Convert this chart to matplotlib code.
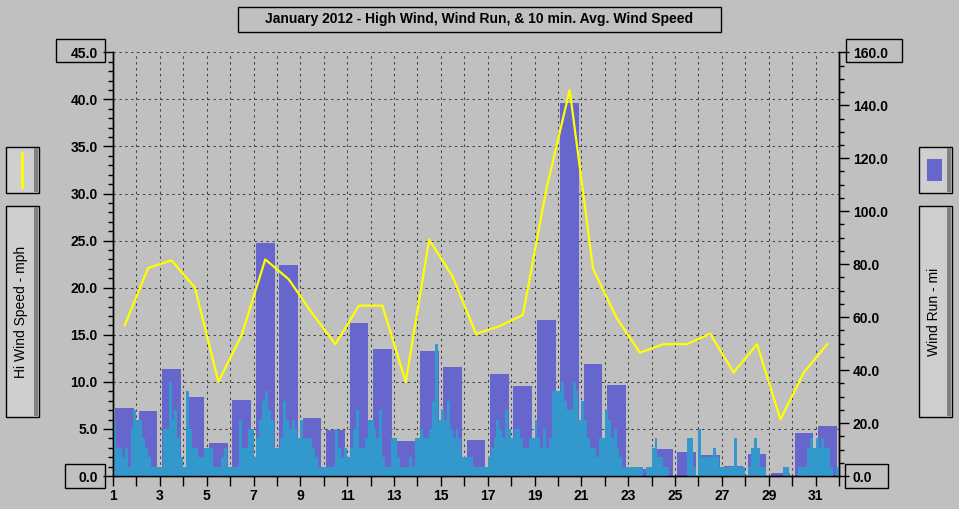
import numpy as np
import matplotlib
matplotlib.use("Agg")
import matplotlib.pyplot as plt
import matplotlib.transforms as mtransforms
from matplotlib.patches import Rectangle
from matplotlib.lines import Line2D
from matplotlib.ticker import MultipleLocator, FuncFormatter

# ================================================= Data ===============================================================
days = np.arange(1, 32)

# daily high wind speed (mph), left axis
hi_wind_mph = [16.0, 22.1, 22.9, 20.0, 10.0, 15.0, 23.0, 20.9, 17.3, 14.0,
               18.1, 18.1, 10.0, 25.1, 21.2, 15.1, 15.9, 17.1, 30.4, 41.0,
               22.0, 16.8, 13.1, 14.0, 14.0, 15.1, 11.0, 14.0, 6.0, 11.0, 14.0]

# daily wind run (mi), right axis
wind_run_mi = [25.7, 24.5, 40.4, 29.8, 12.5, 28.7, 88.0, 79.7, 21.9, 17.5,
               57.8, 48.0, 13.2, 47.2, 41.2, 13.6, 38.5, 34.0, 58.9, 140.9,
               42.3, 34.4, 2.8, 10.2, 9.2, 7.9, 3.8, 8.3, 1.1, 16.2, 18.9]

avg_speed_mph = [
    [6, 3, 3, 2, 3, 1, 5, 7], [6, 6, 4, 3, 2, 1, 1, 1], [1, 5, 5, 10, 6, 7, 4, 2],
    [1, 9, 5, 3, 3, 2, 2, 3], [3, 3, 1, 1, 1, 2, 3, 1], [1, 1, 1, 6, 3, 3, 5, 5],
    [2, 4, 6, 8, 9, 7, 6, 3], [3, 4, 8, 6, 5, 6, 5, 4], [6, 4, 4, 4, 3, 2, 1, 1],
    [1, 1, 1, 1, 5, 3, 2, 3], [2, 3, 5, 7, 3, 3, 4, 6], [6, 5, 4, 7, 2, 1, 1, 4],
    [4, 2, 1, 1, 1, 2, 1, 4], [4, 5, 4, 4, 5, 8, 14, 6], [7, 6, 8, 5, 4, 5, 4, 2],
    [2, 2, 2, 1, 1, 1, 1, 1], [2, 3, 4, 6, 5, 4, 7, 5], [4, 5, 5, 4, 3, 3, 4, 4],
    [6, 4, 3, 5, 3, 4, 9, 9], [9, 10, 8, 7, 7, 10, 9, 6], [8, 6, 4, 3, 3, 2, 4, 4],
    [7, 6, 4, 5, 3, 2, 1, 1], [1, 1, 1, 1, 1, 0, 1, 1], [3, 4, 2, 2, 1, 1, 0, 0],
    [0, 0, 0, 0, 4, 4, 1, 0], [5, 2, 2, 2, 2, 3, 2, 1], [1, 1, 1, 1, 4, 1, 1, 1],
    [0, 1, 3, 4, 3, 1, 1, 0], [0, 0, 0, 0, 0, 1, 1, 0], [0, 0, 1, 1, 1, 3, 4, 3],
    [4, 3, 4, 3, 3, 1, 0, 1],
]

title = "January 2012 - High Wind, Wind Run, & 10 min. Avg. Wind Speed"
left_label = "Hi Wind Speed - mph"
right_label = "Wind Run - mi"

# ================================================ Styling =============================================================
BG = '#C0C0C0'
BOX = '#CFCFCF'
BAR_COLOR = '#6666CC'
AVG_COLOR = '#3399CC'
HI_COLOR = '#FFFF00'
GRID_COLOR = '#404040'
W, H = 959, 509

plt.rcParams['font.family'] = ['Liberation Sans', 'DejaVu Sans']
plt.rcParams['font.weight'] = 'bold'

fig = plt.figure(figsize=(W / 100, H / 100), dpi=100, facecolor=BG)


def fig_rect(x0, y0, x1, y1):
    """pixel box (top-left origin) -> figure fraction rect"""
    return x0 / W, 1 - y1 / H, (x1 - x0) / W, (y1 - y0) / H


def draw_box(x0, y0, x1, y1, face=BG, shadow=False):
    l, b, w, h = fig_rect(x0, y0, x1, y1)
    fig.add_artist(Rectangle((l, b), w, h, transform=fig.transFigure, facecolor=face,
                             edgecolor='black', linewidth=1, zorder=0))
    if shadow:
        l, b, w, h = fig_rect(x1 - 5, y0 + 1, x1 - 1, y1 - 1)
        fig.add_artist(Rectangle((l, b), w, h, transform=fig.transFigure, facecolor='#808080',
                                 edgecolor='none', zorder=0.5))


# ================================================= Axes ===============================================================
ax = fig.add_axes(fig_rect(113, 52.3, 839, 476))
ax2 = ax.twinx()
ax.set_zorder(2)
ax2.set_zorder(1)
ax.patch.set_visible(False)
ax2.patch.set_visible(True)
ax2.patch.set_facecolor(BG)

ax.set_xlim(1, 32)
ax.set_ylim(0, 45)
ax2.set_ylim(0, 160)

# grid lines live on the lower axes so the bars cover them
grid_kw = dict(color=GRID_COLOR, linewidth=0.75, linestyle=(0, (2.25, 3.4)), zorder=0)
for d in days[1:]:
    ax2.axvline(d, **grid_kw)
blend = mtransforms.blended_transform_factory(ax.transAxes, ax.transData)
for v in np.arange(5, 46, 5):
    ax2.add_line(Line2D([0, 1], [v, v], transform=blend, **grid_kw))

# wind run bars
ax2.bar(days + 0.5, wind_run_mi, width=0.8, color=BAR_COLOR, zorder=2)

# 10 min avg speed as filled steps
avg_flat = np.concatenate(avg_speed_mph)
edges = np.linspace(1, 32, len(avg_flat) + 1)
ax.stairs(avg_flat, edges, fill=True, color=AVG_COLOR, linewidth=1.0, zorder=2)

# high wind line
ax.plot(days + 0.5, hi_wind_mph, color=HI_COLOR, linewidth=1.6, zorder=3)

# ticks
ax.xaxis.set_major_locator(MultipleLocator(1))
ax.xaxis.set_major_formatter(FuncFormatter(
    lambda v, p: f"{int(round(v))}" if int(round(v)) % 2 == 1 and v < 31.5 else ""))
ax.yaxis.set_major_locator(MultipleLocator(5))
ax.yaxis.set_minor_locator(MultipleLocator(1))
ax.yaxis.set_major_formatter(FuncFormatter(lambda v, p: f"{v:.1f}"))
ax2.yaxis.set_major_locator(MultipleLocator(20))
ax2.yaxis.set_minor_locator(MultipleLocator(5))
ax2.yaxis.set_major_formatter(FuncFormatter(lambda v, p: f"{v:.1f}"))

ax.tick_params(axis='x', which='major', direction='out', length=7, width=1, pad=2, labelsize=10)
ax.tick_params(axis='y', which='major', direction='out', length=7, width=1, pad=4, labelsize=10)
ax.tick_params(axis='y', which='minor', direction='out', length=3.5, width=1)
ax2.tick_params(axis='y', which='major', direction='out', length=7, width=1, pad=3, labelsize=10)
ax2.tick_params(axis='y', which='minor', direction='out', length=3.5, width=1)

for a in (ax, ax2):
    a.spines['top'].set_visible(False)
    for s in ('left', 'right', 'bottom'):
        a.spines[s].set_color('black')
        a.spines[s].set_linewidth(1)

# ============================================= Boxes & labels =========================================================
draw_box(238, 7, 721, 32)
fig.text(479.5 / W, 1 - 19.5 / H, title, ha='center', va='center', fontsize=10)

# boxed end labels
draw_box(56, 39, 105, 62)
draw_box(65, 464, 105, 488)
draw_box(846, 39, 902, 62)
draw_box(845, 464, 888, 488)

# left legend
draw_box(6, 147, 39, 193, face=BOX, shadow=True)
fig.add_artist(Line2D([22 / W, 22 / W], [1 - 153 / H, 1 - 187 / H], transform=fig.transFigure,
                      color=HI_COLOR, linewidth=2))
draw_box(6, 206, 39, 417, face=BOX, shadow=True)
fig.text(21 / W, 1 - 311.5 / H, left_label, rotation=90, ha='center', va='center',
         fontsize=10, fontweight='normal')

# right legend
draw_box(919, 147, 952, 193, face=BOX, shadow=True)
l, b, w, h = fig_rect(927, 159, 942, 181)
fig.add_artist(Rectangle((l, b), w, h, transform=fig.transFigure, facecolor=BAR_COLOR,
                         edgecolor='none'))
draw_box(919, 206, 952, 417, face=BOX, shadow=True)
fig.text(934 / W, 1 - 311.5 / H, right_label, rotation=90, ha='center', va='center',
         fontsize=10, fontweight='normal')

fig.savefig("out.png", dpi=100, facecolor=BG)
